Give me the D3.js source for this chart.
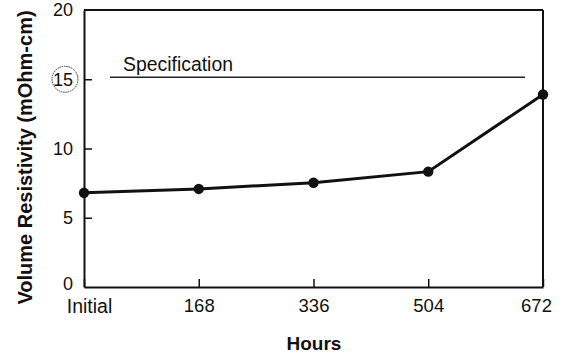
<!DOCTYPE html>
<html>
<head>
<meta charset="utf-8">
<script src="https://cdn.jsdelivr.net/npm/d3@7"></script>
<style>
  html, body { margin: 0; padding: 0; background: #fff; }
  svg { display: block; font-family: "Liberation Sans", Arial, Helvetica, sans-serif; }
  .axis path, .axis line { stroke: #111; }
  .axis text { fill: #111; }
</style>
</head>
<body>
<svg id="chart" width="564" height="356"></svg>
<script>
// Volume resistivity over exposure time
const hours = ["Initial", "168", "336", "504", "672"];
const resistivity = [6.8, 7.08, 7.53, 8.33, 13.9];
const yTicks = [0, 5, 10, 15, 20];
const specLimit = 15;

const svg = d3.select("#chart");
const plotLeft = 84, plotRight = 543, plotTop = 10, plotBottom = 287;

const x = d3.scalePoint().domain(hours).range([plotLeft, plotRight]).padding(0);
const y = d3.scaleLinear().domain([0, 20]).range([plotBottom, plotTop]);

// Frame: top and right edges
svg.append("line")
  .attr("x1", x(hours[0])).attr("x2", x(hours[hours.length - 1]))
  .attr("y1", y(20)).attr("y2", y(20))
  .attr("stroke", "#111").attr("stroke-width", 2);
svg.append("line")
  .attr("x1", x(hours[hours.length - 1])).attr("x2", x(hours[hours.length - 1]))
  .attr("y1", y(20)).attr("y2", y(0))
  .attr("stroke", "#111").attr("stroke-width", 2);

// X axis with inward ticks
const gx = svg.append("g").attr("class", "axis")
  .attr("transform", `translate(0,${plotBottom})`)
  .call(d3.axisBottom(x).tickSizeInner(-8).tickSizeOuter(0).tickPadding(12));
gx.select(".domain").attr("stroke-width", 2);
gx.selectAll(".tick line").attr("stroke-width", 1.5);
gx.selectAll(".tick text")
  .attr("font-size", (d, i) => i === 0 ? 19.5 : 18.5)
  .attr("dx", (d, i) => i === 0 ? 5 : (i === hours.length - 1 ? -7 : 0));

// Y axis with inward ticks
const gy = svg.append("g").attr("class", "axis")
  .attr("transform", `translate(${plotLeft},0)`)
  .call(d3.axisLeft(y).tickValues(yTicks).tickSizeInner(-8).tickSizeOuter(0).tickPadding(11));
gy.select(".domain").attr("stroke-width", 2);
gy.selectAll(".tick line").attr("stroke-width", 1.5)
  .attr("display", d => (d === 0 || d === 20) ? "none" : null);
gy.selectAll(".tick text").attr("font-size", 18)
  .attr("y", d => d === 0 ? -3 : 0);

// Circle around the specification value on the y axis
svg.append("circle")
  .attr("cx", plotLeft - 19).attr("cy", y(specLimit))
  .attr("r", 13)
  .attr("fill", "none").attr("stroke", "#333").attr("stroke-width", 1)
  .attr("stroke-dasharray", "1.5,0.8");

// Specification line
svg.append("line")
  .attr("x1", 110).attr("x2", 525)
  .attr("y1", y(specLimit) - 2).attr("y2", y(specLimit) - 2)
  .attr("stroke", "#222").attr("stroke-width", 1.5);
svg.append("text")
  .attr("x", 123).attr("y", y(specLimit) - 8.5)
  .attr("font-size", 19.4).attr("fill", "#111")
  .text("Specification");

// Data line and markers
const line = d3.line().x((d, i) => x(hours[i])).y(d => y(d));
svg.append("path")
  .datum(resistivity)
  .attr("d", line)
  .attr("fill", "none").attr("stroke", "#111").attr("stroke-width", 3);
svg.selectAll("circle.pt")
  .data(resistivity)
  .join("circle")
  .attr("class", "pt")
  .attr("cx", (d, i) => x(hours[i]))
  .attr("cy", d => y(d))
  .attr("r", 5.2)
  .attr("fill", "#111");

// Axis titles
svg.append("text")
  .attr("x", 314).attr("y", 350)
  .attr("text-anchor", "middle")
  .attr("font-size", 19).attr("font-weight", "bold").attr("fill", "#111")
  .text("Hours");
svg.append("text")
  .attr("transform", "translate(32,157.5) rotate(-90)")
  .attr("text-anchor", "middle")
  .attr("font-size", 20).attr("font-weight", "bold").attr("fill", "#111")
  .text("Volume Resistivity (mOhm-cm)");
</script>
</body>
</html>
